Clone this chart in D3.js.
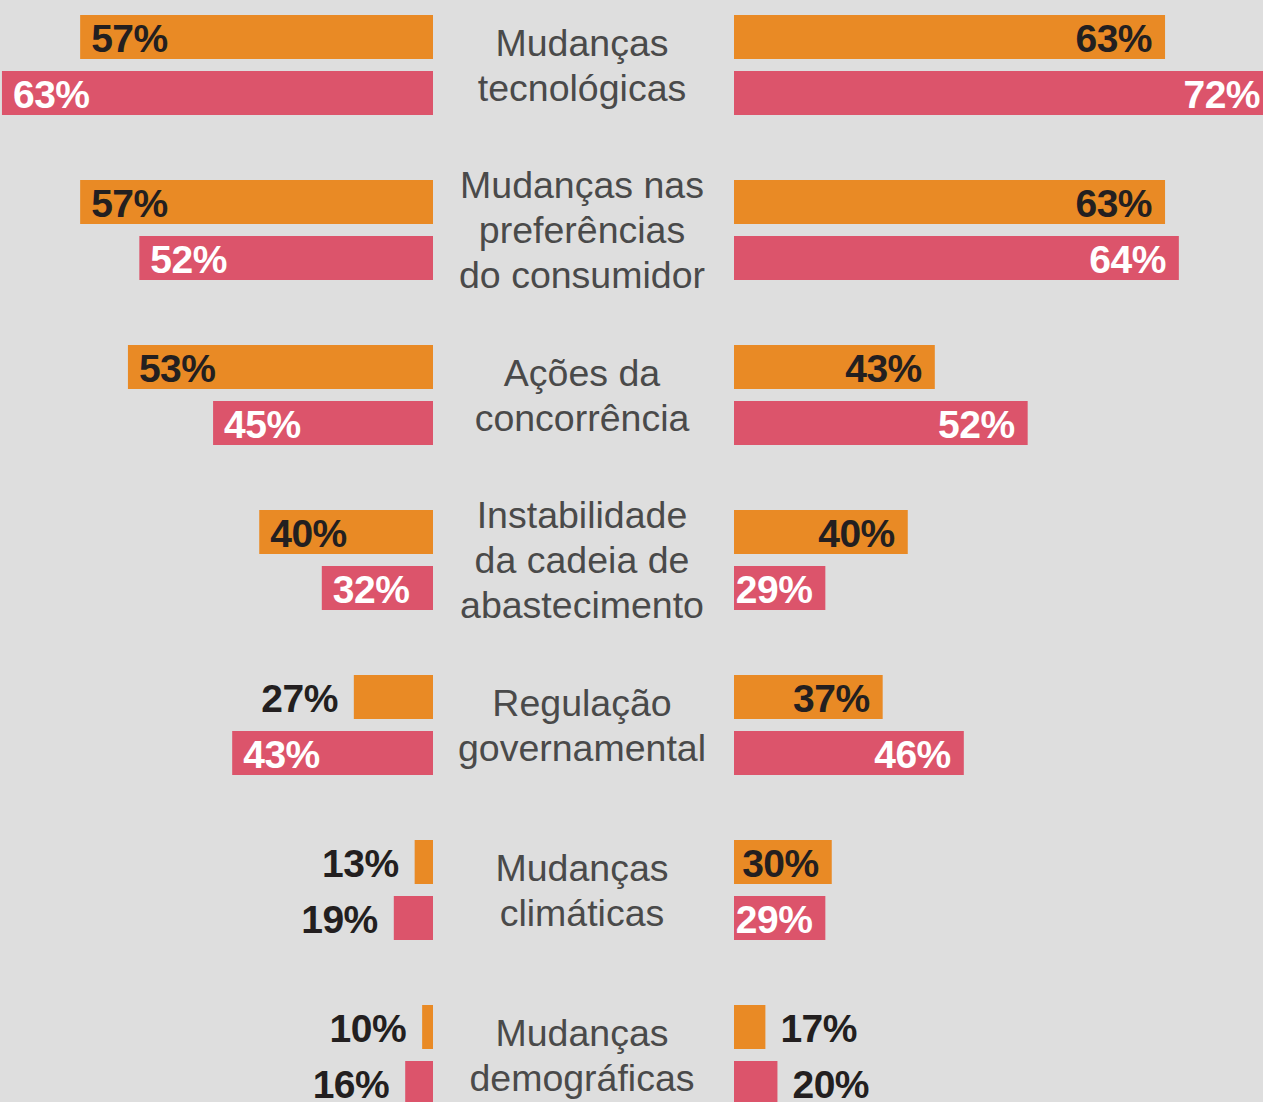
<!DOCTYPE html>
<html>
<head>
<meta charset="utf-8">
<script src="https://cdn.jsdelivr.net/npm/d3@7"></script>
<style>
  body { margin: 0; background: #dedede; }
  svg { display: block; }
</style>
</head>
<body>
<div id="chart"></div>
<script>
var categories = [
    ["Mudanças", "tecnológicas"],
    ["Mudanças nas", "preferências", "do consumidor"],
    ["Ações da", "concorrência"],
    ["Instabilidade", "da cadeia de", "abastecimento"],
    ["Regulação", "governamental"],
    ["Mudanças", "climáticas"],
    ["Mudanças", "demográficas"]
];
var leftOrange  = [57, 57, 53, 40, 27, 13, 10];
var leftPink    = [63, 52, 45, 32, 43, 19, 16];
var rightOrange = [63, 63, 43, 40, 37, 30, 17];
var rightPink   = [72, 64, 52, 29, 46, 29, 20];

var width = 1263,
    height = 1102,
    leftBase = 433,
    rightBase = 734,
    centerX = 582,
    barH = 44,
    pinkOffset = 56,
    orange = "#e98a25",
    pink = "#dc546b";

var svg = d3.select("#chart")
  .append("svg")
    .attr("width", width)
    .attr("height", height)
    .style("background", "#dedede");

var y = d3.scaleBand()
    .domain(d3.range(categories.length))
    .range([15, 15 + categories.length * 165])
    .paddingInner(0);

// bar lengths in the original grow faster than the values
var len = d3.scalePow()
    .exponent(2)
    .domain([0, 72])
    .range([0, 563]);

var rows = [];
categories.forEach(function(c, i) {
    rows.push({side: "left",  color: orange, v: leftOrange[i],  top: y(i)});
    rows.push({side: "left",  color: pink,   v: leftPink[i],    top: y(i) + pinkOffset});
    rows.push({side: "right", color: orange, v: rightOrange[i], top: y(i)});
    rows.push({side: "right", color: pink,   v: rightPink[i],   top: y(i) + pinkOffset});
});

function inside(d) { return len(d.v) >= 85; }

svg.selectAll("rect.bar")
    .data(rows)
    .enter()
    .append("rect")
        .attr("class", "bar")
        .attr("x", function(d) { return d.side == "left" ? leftBase - len(d.v) : rightBase; })
        .attr("y", function(d) { return d.top; })
        .attr("width", function(d) { return len(d.v); })
        .attr("height", barH)
        .attr("fill", function(d) { return d.color; });

svg.selectAll("text.val")
    .data(rows)
    .enter()
    .append("text")
        .attr("class", "val")
        .attr("y", function(d) { return d.top + 37; })
        .attr("x", function(d) {
            if (d.side == "left") return inside(d) ? leftBase - len(d.v) + 11 : leftBase - len(d.v) - 16;
            // keep the label in view when the bar runs past the edge
            return inside(d) ? Math.min(rightBase + len(d.v), width + 10) - 13 : rightBase + len(d.v) + 15;
        })
        .attr("text-anchor", function(d) {
            if (d.side == "left") return inside(d) ? "start" : "end";
            return inside(d) ? "end" : "start";
        })
        .attr("fill", function(d) {
            return (inside(d) && d.color == pink) ? "#ffffff" : "#231f20";
        })
        .style("font-family", "'Liberation Sans', Arial, sans-serif")
        .style("font-weight", "bold")
        .style("font-size", "39px")
        .style("letter-spacing", "-0.5px")
        .text(function(d) { return d.v + "%"; });

// category labels in the middle
var labels = svg.selectAll("text.cat")
    .data(categories)
    .enter()
    .append("text")
        .attr("class", "cat")
        .attr("text-anchor", "middle")
        .attr("fill", "#4a4a4a")
        .style("font-family", "'Liberation Sans', Arial, sans-serif")
        .style("font-size", "37.5px");

labels.selectAll("tspan")
    .data(function(d, i) {
        var mid = y(i) + (pinkOffset + barH) / 2;
        return d.map(function(line, k) {
            return {text: line, y: mid + 13 + (k - (d.length - 1) / 2) * 45};
        });
    })
    .enter()
    .append("tspan")
        .attr("x", centerX)
        .attr("y", function(d) { return d.y; })
        .text(function(d) { return d.text; });
</script>
</body>
</html>
